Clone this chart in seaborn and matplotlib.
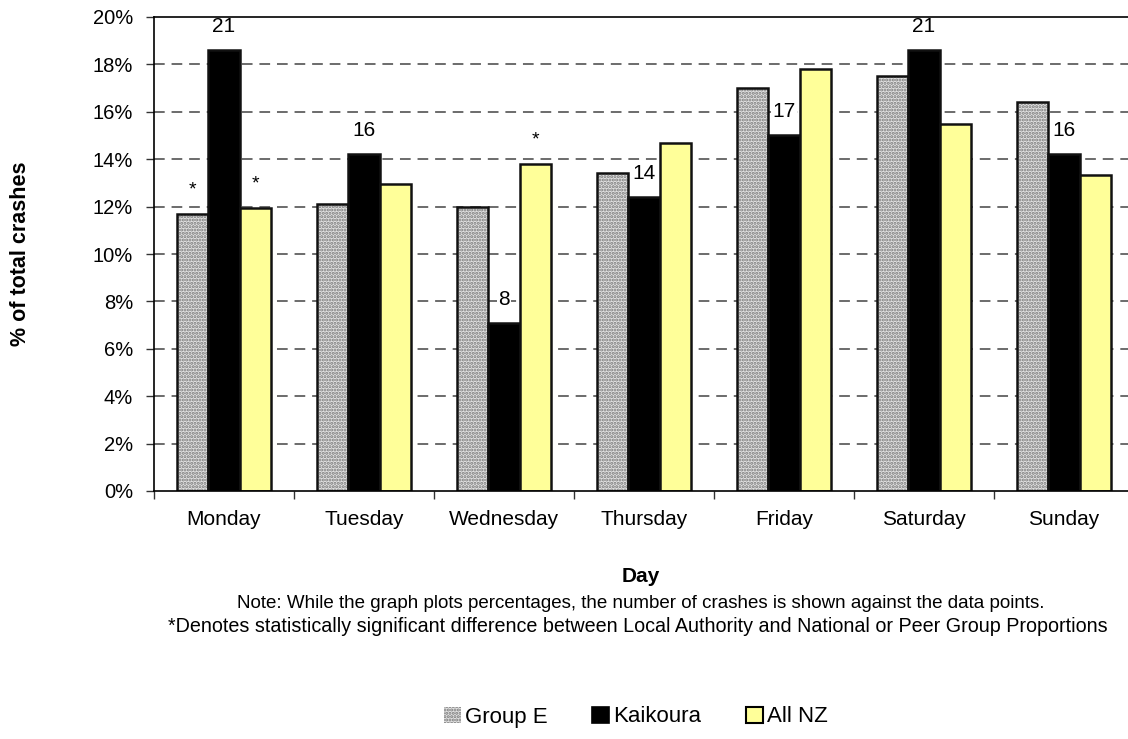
import matplotlib
matplotlib.use("Agg")
import matplotlib.pyplot as plt
from matplotlib.patches import Patch, Rectangle
from matplotlib.ticker import PercentFormatter, FixedLocator
import seaborn as sns
import pandas as pd

days = ["Monday", "Tuesday", "Wednesday", "Thursday", "Friday", "Saturday", "Sunday"]
series = ["Group E", "Kaikoura", "All NZ"]
group_e = [11.7, 12.1, 12.0, 13.4, 17.0, 17.5, 16.4]
kaikoura = [18.6, 14.2, 7.1, 12.4, 15.0, 18.6, 14.2]
all_nz = [11.95, 12.95, 13.8, 14.7, 17.8, 15.5, 13.35]
kaikoura_counts = [21, 16, 8, 14, 17, 21, 16]
# significance markers: (series, day)
significant = [("Group E", "Monday"), ("All NZ", "Monday"), ("All NZ", "Wednesday")]

colors = {"Group E": "#e2e2e2", "Kaikoura": "#000000", "All NZ": "#ffff99"}

rows = []
for s, vals in zip(series, [group_e, kaikoura, all_nz]):
    for d, v in zip(days, vals):
        rows.append({"Day": d, "Series": s, "pct": v})
df = pd.DataFrame(rows)

sns.set_theme(style="white")
plt.rcParams["font.family"] = ["Liberation Sans", "DejaVu Sans"]
plt.rcParams["hatch.linewidth"] = 1.5
plt.rcParams["text.color"] = "black"
plt.rcParams["xtick.color"] = "black"
plt.rcParams["ytick.color"] = "black"
plt.rcParams["axes.labelcolor"] = "black"

fig = plt.figure(figsize=(11.28, 7.39), dpi=100)
ax = fig.add_axes([154 / 1128, 1 - 491 / 739, 980 / 1128, 474 / 739])

sns.barplot(data=df, x="Day", y="pct", hue="Series", order=days, hue_order=series,
            palette=colors, width=0.665, edgecolor="#111111", linewidth=1.8,
            saturation=1, legend=False, ax=ax, zorder=3)

# hatch group E bars, then outline them
for p in ax.containers[0]:
    p.set_hatch(".....")
    p.set_edgecolor("#7a7a7a")
    p.set_linewidth(0)
    ax.add_patch(Rectangle(p.get_xy(), p.get_width(), p.get_height(), fill=False,
                           edgecolor="#111111", linewidth=1.8, zorder=4))

ax.set_ylim(0, 20)
ax.set_xlim(-0.5, 6.5)
ax.yaxis.set_major_locator(FixedLocator(range(0, 21, 2)))
ax.yaxis.set_major_formatter(PercentFormatter(decimals=0))
ax.grid(False)
for yv in range(2, 20, 2):
    ax.axhline(yv, color="#444444", linewidth=1.1, linestyle=(0, (7, 4.5)), zorder=1)

# x ticks at category boundaries, labels at centres
ax.set_xticks([i - 0.5 for i in range(len(days) + 1)])
ax.set_xticklabels([])
ax.set_xticks(range(len(days)), minor=True)
ax.set_xticklabels(days, minor=True, fontsize=15)
ax.tick_params(axis="x", which="major", direction="out", length=6, width=1, color="#333333", bottom=True)
ax.tick_params(axis="x", which="minor", length=0, pad=14)
ax.tick_params(axis="y", direction="out", length=6, width=1, color="#333333", labelsize=14.5, left=True, pad=9)
for sp in ["left", "bottom", "top"]:
    ax.spines[sp].set_color("#000000")
    ax.spines[sp].set_linewidth(1.2)
    ax.spines[sp].set_zorder(6)
ax.spines["right"].set_visible(False)

ax.set_xlabel("")
ax.set_ylabel("% of total crashes", fontsize=15.5, fontweight="bold", va="center")
ax.yaxis.set_label_coords((21 - 154) / 980, 0.5)

# count labels over Kaikoura bars
for p, c in zip(ax.containers[1], kaikoura_counts):
    ax.annotate(str(c), (p.get_x() + p.get_width() / 2, p.get_height()),
                xytext=(0, 13), textcoords="offset points", ha="center", va="baseline",
                fontsize=15, zorder=5,
                bbox=dict(boxstyle="square,pad=0.05", fc="white", ec="none"))

# significance asterisks
for s, d in significant:
    p = ax.containers[series.index(s)][days.index(d)]
    ax.annotate("*", (p.get_x() + p.get_width() / 2, p.get_height()),
                xytext=(0, 14), textcoords="offset points", ha="center", va="baseline",
                fontsize=14, zorder=5)

fig.text(641 / 1128, 1 - 577 / 739, "Day", ha="center", va="center", fontsize=15, fontweight="bold")
fig.text(641 / 1128, 1 - 604 / 739,
         "Note: While the graph plots percentages, the number of crashes is shown against the data points.",
         ha="center", va="center", fontsize=13.5)
fig.text(638 / 1128, 1 - 626 / 739,
         "*Denotes statistically significant difference between Local Authority and National or Peer Group Proportions",
         ha="center", va="center", fontsize=14.2)

handles = [
    Patch(facecolor=colors["Group E"], edgecolor="#7a7a7a", hatch=".....", linewidth=0),
    Patch(facecolor=colors["Kaikoura"], edgecolor="#000000", linewidth=1.2),
    Patch(facecolor=colors["All NZ"], edgecolor="#000000", linewidth=1.5),
]
fig.legend(handles, series, loc="center", bbox_to_anchor=(636 / 1128, 1 - 717 / 739), ncol=3,
           frameon=False, fontsize=16, handlelength=0.75, handleheight=0.75,
           handletextpad=0.2, columnspacing=2.0)

fig.savefig("out.png", dpi=100)
